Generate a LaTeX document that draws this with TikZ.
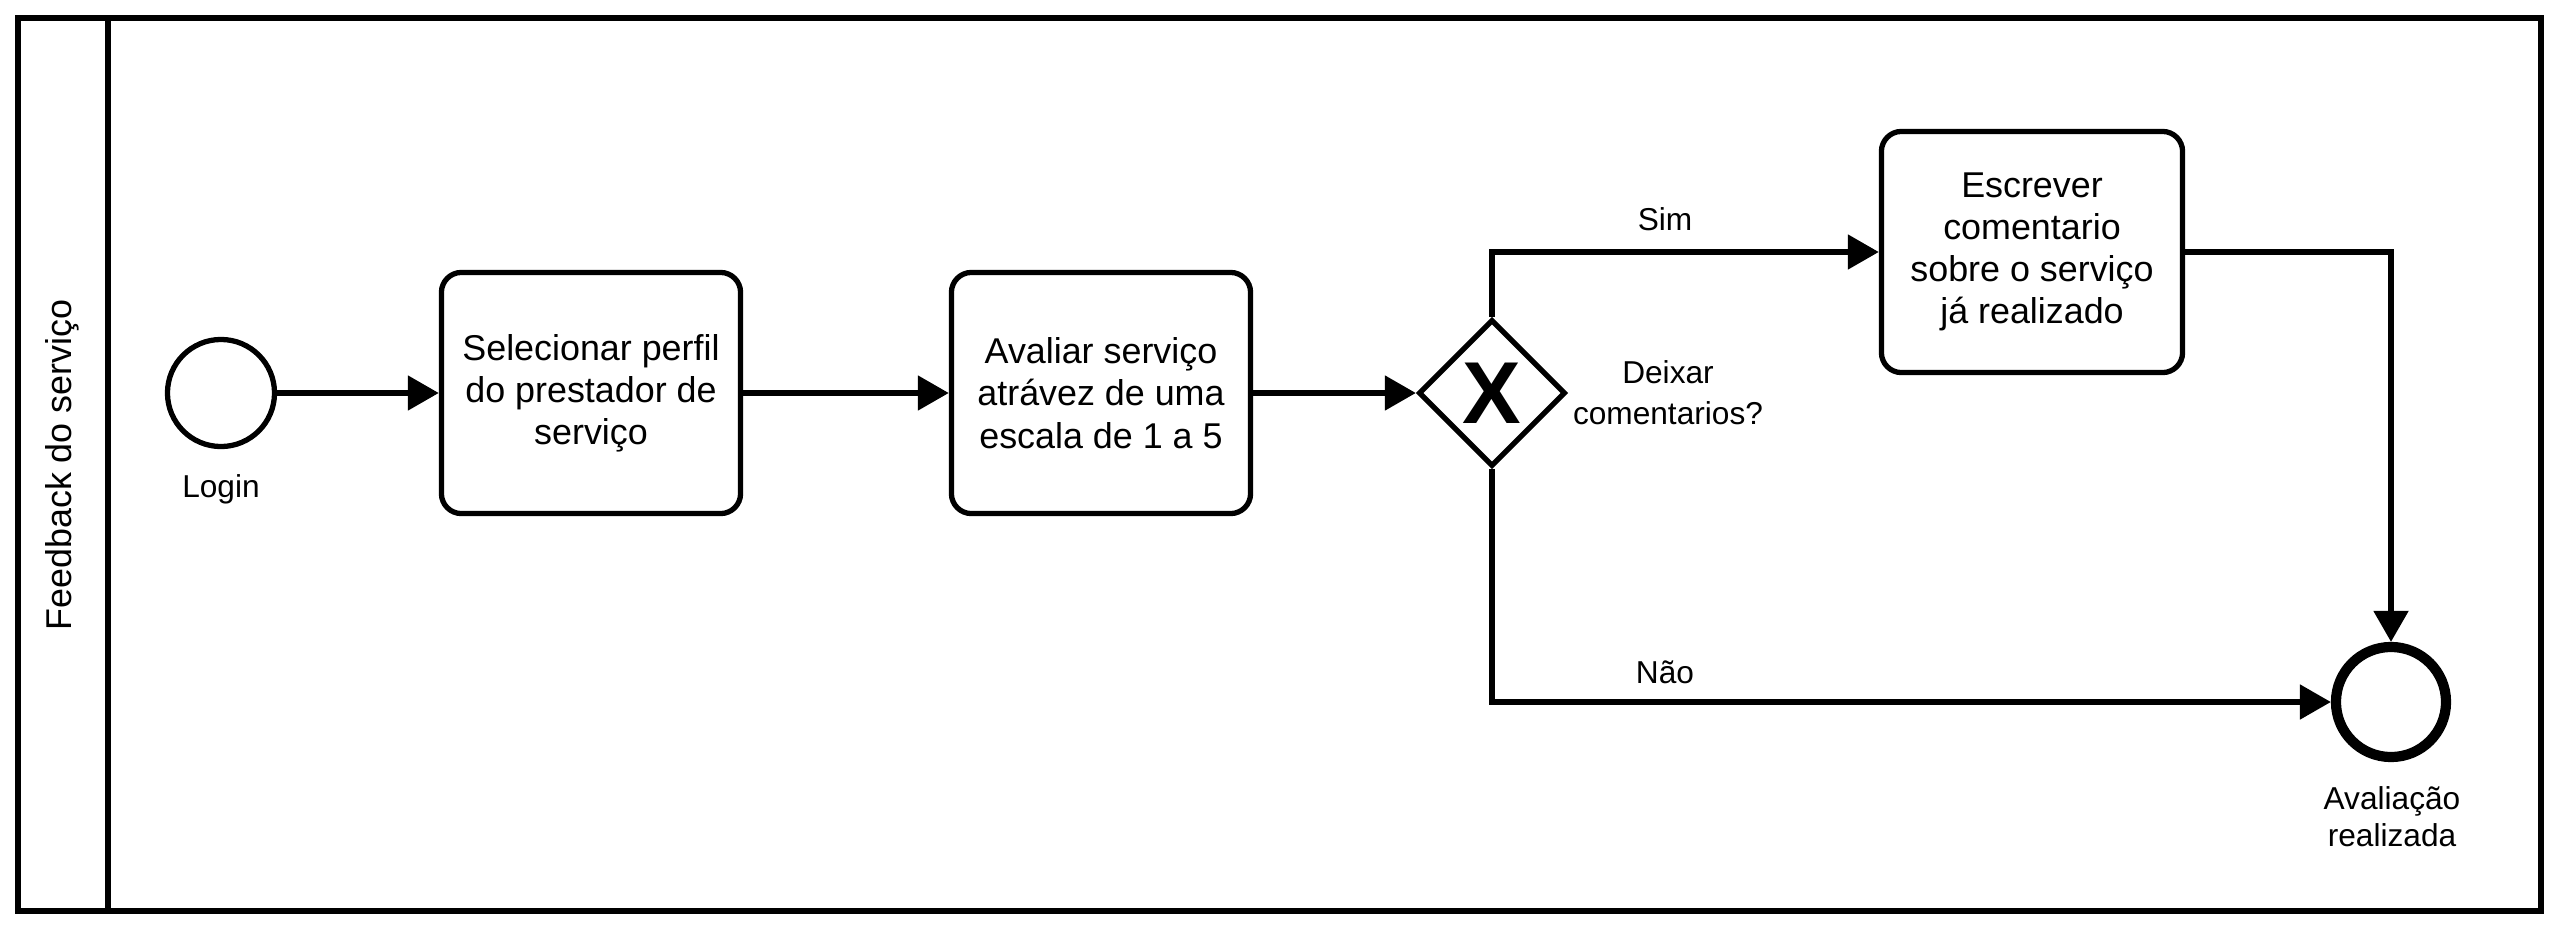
\documentclass[tikz,border=0pt]{standalone}
\usepackage{fontspec}
\setmainfont{Liberation Sans}
\usetikzlibrary{arrows.meta,shapes.geometric}
\tikzset{
  lw/.style={line width=1.5pt},
  task/.style={draw, lw, rounded corners=0.2cm, minimum width=2.99cm, minimum height=2.41cm, inner sep=0, align=center, font=\fontsize{10.2}{12}\selectfont},
  startev/.style={draw, lw, circle, minimum size=1.07cm, inner sep=0},
  endev/.style={draw, line width=2.9pt, circle, minimum size=1.1cm, inner sep=0},
  gwshape/.style={draw, lw, diamond, aspect=1, minimum size=1.47cm, inner sep=0},
  lbl/.style={font=\fontsize{9}{10.5}\selectfont, align=center, inner sep=0},
  flow/.style={lw, -{Triangle[length=3.1mm, width=3.4mm]}},
}
\begin{document}
\begin{tikzpicture}[x=0.01cm, y=-0.01cm]
\useasboundingbox (0,0) rectangle (2559,930);
% pool / lane
\draw[line width=1.8pt] (18,18) rectangle (2541,911);
\draw[line width=1.8pt] (108,18) -- (108,911);
\node[rotate=90, font=\fontsize{10.2}{12}\selectfont] (lane) at (62,465) {Feedback do serviço};
% nodes
\node[startev] (login) at (221,393) {};
\node[lbl] (loginlbl) at (221,489) {Login};
\node[task] (t1) at (591,393) {Selecionar perfil\\do prestador de\\serviço};
\node[task] (t2) at (1101,393) {Avaliar serviço\\atrávez de uma\\escala de 1 a 5};
\node[gwshape] (gw) at (1492,393) {};
\node[font=\fontsize{25}{27}\bfseries\selectfont, inner sep=0] (gwx) at (1492,393) {X};
\node[lbl, font=\fontsize{9}{11.6}\selectfont] (gwlbl) at (1668,393) {Deixar\\comentarios?};
\node[task, minimum width=3.01cm, minimum height=2.41cm] (t3) at (2032,252) {Escrever\\comentario\\sobre o serviço\\já realizado};
\node[endev] (end) at (2391,702) {};
\node[lbl, font=\fontsize{9}{10.5}\selectfont] (endlbl) at (2392,817) {Avaliação\\realizada};
% flows
\draw[flow] (login) -- (t1);
\draw[flow] (t1) -- (t2);
\draw[flow] (t2) -- (gw);
\draw[flow] (gw.north) |- (t3.west);
\draw[flow] (t3.east) -| (end.north);
\draw[flow] (gw.south) |- (end.west);
\node[lbl] (sim) at (1665,219) {Sim};
\node[lbl] (nao) at (1665,672) {Não};
\end{tikzpicture}
\end{document}
